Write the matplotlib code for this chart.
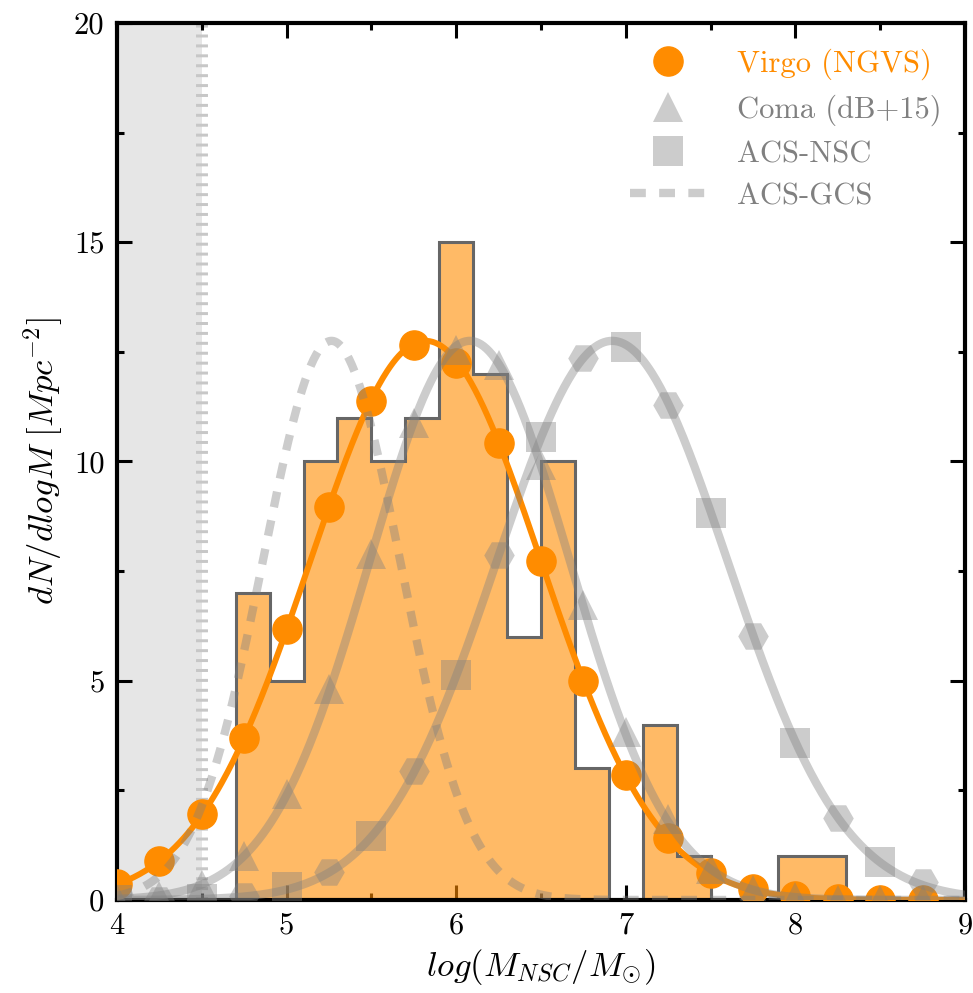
import numpy as np
import matplotlib
matplotlib.use('Agg')
import matplotlib.pyplot as plt

plt.rcParams['font.family'] = 'cmr10'
plt.rcParams['mathtext.fontset'] = 'cm'
plt.rcParams['axes.unicode_minus'] = False

# --------------------------------------
# data
# --------------------------------------
# NGVS nuclear star cluster mass histogram (bins of 0.2 dex)
hist_edges = [4.7, 4.9, 5.1, 5.3, 5.5, 5.7, 5.9, 6.1, 6.3, 6.5, 6.7, 6.9,
              7.1, 7.3, 7.5, 7.7, 7.9, 8.1, 8.3]
hist_counts = [7, 5, 10, 11, 10, 11, 15, 12, 6, 10, 3, 0, 4, 1, 0, 0, 1, 1]

# sampled points on each lognormal fit
virgo_x = [4.0, 4.25, 4.5, 4.75, 5.0, 5.25, 5.5, 5.75, 6.0, 6.25,
           6.5, 6.75, 7.0, 7.25, 7.5, 7.75, 8.0, 8.25, 8.5, 8.75]
virgo_y = [0.36, 0.89, 1.96, 3.70, 6.17, 8.97, 11.38, 12.65, 12.25, 10.41,
           7.72, 5.00, 2.85, 1.41, 0.62, 0.24, 0.08, 0.02, 0.0, 0.0]

coma_x = virgo_x
coma_y = [0.03, 0.10, 0.35, 1.00, 2.41, 4.80, 7.90, 10.88, 12.55, 12.20,
          9.92, 6.73, 3.82, 1.85, 0.70, 0.23, 0.06, 0.01, 0.0, 0.0]

nsc_sq_x = [4.0, 4.5, 5.0, 5.5, 6.0, 6.5, 7.0, 7.5, 8.0, 8.5]
nsc_sq_y = [0.0, 0.02, 0.30, 1.46, 5.14, 10.55, 12.61, 8.82, 3.59, 0.86]
nsc_hex_x = [4.25, 4.75, 5.25, 5.75, 6.25, 6.75, 7.25, 7.75, 8.25, 8.75]
nsc_hex_y = [0.01, 0.08, 0.64, 2.93, 7.87, 12.35, 11.29, 6.01, 1.88, 0.42]

# lognormal fit parameters: (peak, log mean, log sigma)
virgo_fit = (12.75, 5.82, 0.68)
coma_fit = (12.75, 6.08, 0.59)
nsc_fit = (12.75, 6.92, 0.68)
gcs_fit = (12.75, 5.265, 0.405)

x_limit = 4.5


def lognorm(x, peak, mu, sig):
    return peak * np.exp(-0.5 * ((x - mu) / sig) ** 2)


xs = np.linspace(4, 9, 600)
orange = 'darkorange'
grey = 'grey'

fig = plt.figure(figsize=(9.73, 9.93), dpi=100)
ax = fig.add_axes([0.1202, 0.0937, 0.8715, 0.8832])

# completeness limit
ax.axvspan(4, x_limit, color='0.9', lw=0, zorder=0)
ax.axvline(x_limit, color='0.78', lw=8.6, dashes=(0.25, 0.58), zorder=1)

# histogram
ax.stairs(hist_counts, hist_edges, fill=True, facecolor=(1.0, 0.55, 0.0, 0.6),
          edgecolor='0.4', linewidth=2.2, zorder=2)

# Virgo fit
ax.plot(xs, lognorm(xs, *virgo_fit), color=orange, lw=4.3, zorder=3)
ax.plot(virgo_x, virgo_y, 'o', color=orange, ms=21, ls='none', zorder=3,
        label='Virgo (NGVS)')

# comparison samples
ax.plot(xs, lognorm(xs, *coma_fit), color=grey, alpha=0.4, lw=6, zorder=4)
ax.plot(coma_x, coma_y, '^', color=grey, alpha=0.4, ms=21, mew=0, ls='none',
        zorder=4, label='Coma (dB+15)')
ax.plot(xs, lognorm(xs, *nsc_fit), color=grey, alpha=0.4, lw=6, zorder=4)
ax.plot(nsc_sq_x, nsc_sq_y, 's', color=grey, alpha=0.4, ms=21, mew=0, ls='none',
        zorder=4, label='ACS-NSC')
ax.plot(nsc_hex_x, nsc_hex_y, 'H', color=grey, alpha=0.4, ms=22, mew=0, ls='none',
        zorder=4)
ax.plot(xs, lognorm(xs, *gcs_fit), color=grey, alpha=0.4, lw=6,
        dashes=(1.9, 1.6), zorder=4, label='ACS-GCS')

ax.set_xlim(4, 9)
ax.set_ylim(0, 20)
ax.set_xticks([4, 5, 6, 7, 8, 9])
ax.set_xticks(np.arange(4, 9.01, 0.5), minor=True)
ax.set_yticks([0, 5, 10, 15, 20])
ax.set_yticks(np.arange(0, 20.01, 2.5), minor=True)
ax.tick_params(which='both', direction='in', top=True, right=True, labelsize=22)
ax.tick_params(which='major', length=11, width=2.2, pad=9)
ax.tick_params(which='minor', length=5, width=2.2)
for sp in ax.spines.values():
    sp.set_linewidth(3)

ax.set_xlabel(r'$log(M_{NSC}/M_{\odot})$', fontsize=25, labelpad=5)
ax.set_ylabel(r'$dN/dlogM\ [Mpc^{-2}]$', fontsize=25, labelpad=6)

leg = ax.legend(loc='upper right', bbox_to_anchor=(0.987, 0.985),
                borderaxespad=0, frameon=False, fontsize=22, handlelength=2.5,
                handletextpad=1.0, labelspacing=0.48, numpoints=1)
for txt, col in zip(leg.get_texts(), [orange, grey, grey, grey]):
    txt.set_color(col)

fig.savefig('out.png', dpi=100)
